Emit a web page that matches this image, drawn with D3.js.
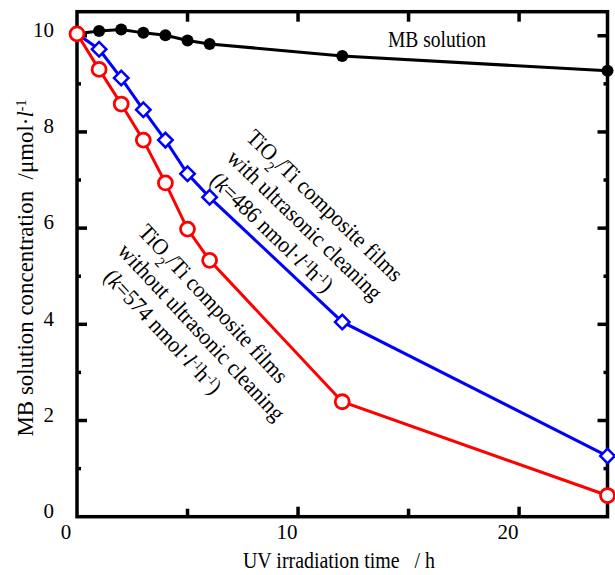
<!DOCTYPE html>
<html>
<head>
<meta charset="utf-8">
<script src="https://cdn.jsdelivr.net/npm/d3@7"></script>
<style>
  body { margin: 0; background: #fff; }
  text { font-family: "Liberation Serif", "Times New Roman", serif; fill: #000; }
</style>
</head>
<body>
<svg width="615" height="575"></svg>
<script>
// data
var times = [0, 1, 2, 3, 4, 5, 6, 12, 24];
var mbSolution = [10.04, 10.10, 10.13, 10.06, 10.01, 9.90, 9.83, 9.58, 9.27];
var withCleaning = [10.04, 9.72, 9.12, 8.46, 7.83, 7.13, 6.64, 4.05, 1.26];
var withoutCleaning = [10.04, 9.30, 8.58, 7.83, 6.94, 5.98, 5.33, 2.39, 0.44];

var xTicks = [0, 10, 20],
    xMinor = [5, 15],
    yTicks = [0, 2, 4, 6, 8, 10],
    yMinor = [1, 3, 5, 7, 9];

// plot box ("top" is a window global, so pl/pr/pt/pb)
var svg = d3.select("svg"),
    pl = 77, pr = 607.5, pt = 11.7, pb = 516.7;

var x = d3.scaleLinear().domain([0, 24]).range([pl, pr]),
    y = d3.scaleLinear().domain([0, 10.5]).range([pb, pt]);

svg.append("rect").attr("width", 615).attr("height", 575).attr("fill", "#fff");

// ticks, inward on all four sides
var ticks = svg.append("g").attr("stroke", "#000").attr("stroke-width", 3.5);
xTicks.concat(xMinor).forEach(function(t) {
  if (t === 0) return;
  var len = xMinor.indexOf(t) >= 0 ? 8 : 10;
  ticks.append("line").attr("x1", x(t)).attr("x2", x(t)).attr("y1", pb).attr("y2", pb - len);
  ticks.append("line").attr("x1", x(t)).attr("x2", x(t)).attr("y1", pt).attr("y2", pt + 10);
});
yTicks.concat(yMinor).forEach(function(t) {
  if (t === 0) return;
  var len = yMinor.indexOf(t) >= 0 ? 4 : 10;
  ticks.append("line").attr("x1", pl).attr("x2", pl + len).attr("y1", y(t)).attr("y2", y(t));
  ticks.append("line").attr("x1", pr).attr("x2", pr - len).attr("y1", y(t)).attr("y2", y(t));
});

// frame
svg.append("rect")
    .attr("x", pl).attr("y", pt)
    .attr("width", pr - pl).attr("height", pb - pt)
    .attr("fill", "none").attr("stroke", "#000").attr("stroke-width", 3.5);

// tick labels
svg.append("g").selectAll("text").data(yTicks).enter().append("text")
    .attr("x", 54).attr("y", function(d) { return y(d) - 6; })
    .attr("dy", "0.35em").attr("text-anchor", "end")
    .attr("font-size", 21)
    .text(function(d) { return d; });

svg.append("g").selectAll("text").data(xTicks).enter().append("text")
    .attr("x", function(d) { return x(d) - 11; }).attr("y", 539)
    .attr("text-anchor", "middle")
    .attr("font-size", 21)
    .text(function(d) { return d; });

// axis titles
svg.append("text")
    .attr("x", 339).attr("y", 568)
    .attr("text-anchor", "middle").attr("font-size", 23)
    .attr("textLength", 192).attr("lengthAdjust", "spacingAndGlyphs")
    .text("UV irradiation time \u00a0 / h");

var yl = svg.append("text")
    .attr("transform", "translate(33,268) rotate(-90)")
    .attr("text-anchor", "middle").attr("font-size", 23)
    .attr("textLength", 337).attr("lengthAdjust", "spacingAndGlyphs");
yl.append("tspan").text("MB solution concentration \u00a0/\u03bcmol\u00b7");
yl.append("tspan").attr("font-style", "italic").text("l");
yl.append("tspan").attr("baseline-shift", "super").attr("font-size", 14).text("-1");

// series
var line = d3.line()
    .x(function(d) { return x(d[0]); })
    .y(function(d) { return y(d[1]); });

function pairs(vals) { return times.map(function(t, i) { return [t, vals[i]]; }); }

var black = pairs(mbSolution), blue = pairs(withCleaning), red = pairs(withoutCleaning);

svg.append("path").datum(black).attr("d", line)
    .attr("fill", "none").attr("stroke", "#000").attr("stroke-width", 3);
svg.append("g").selectAll("circle").data(black.slice(1)).enter().append("circle")
    .attr("cx", function(d) { return x(d[0]); })
    .attr("cy", function(d) { return y(d[1]); })
    .attr("r", 6).attr("fill", "#000");

svg.append("path").datum(blue).attr("d", line)
    .attr("fill", "none").attr("stroke", "#0000ff").attr("stroke-width", 3);
svg.append("g").selectAll("path").data(blue.slice(1)).enter().append("path")
    .attr("d", d3.symbol().type(d3.symbolSquare).size(105))
    .attr("transform", function(d) { return "translate(" + x(d[0]) + "," + y(d[1]) + ") rotate(45)"; })
    .attr("fill", "#fff").attr("stroke", "#0000ff").attr("stroke-width", 2.5);

svg.append("path").datum(red).attr("d", line)
    .attr("fill", "none").attr("stroke", "#ff0000").attr("stroke-width", 3);
svg.append("g").selectAll("circle").data(red).enter().append("circle")
    .attr("cx", function(d) { return x(d[0]); })
    .attr("cy", function(d) { return y(d[1]); })
    .attr("r", 7).attr("fill", "#fff").attr("stroke", "#ff0000").attr("stroke-width", 2.8);

// annotations
svg.append("text")
    .attr("x", 388).attr("y", 47).attr("font-size", 23)
    .attr("textLength", 98).attr("lengthAdjust", "spacingAndGlyphs")
    .text("MB solution");

function note(x0, y0, angle, line2, kText, indent) {
  var g = svg.append("g")
      .attr("transform", "translate(" + x0 + "," + y0 + ") rotate(" + angle + ") scale(0.93,1)")
      .attr("font-size", 23);
  var t1 = g.append("text").attr("x", 0).attr("y", 0);
  t1.append("tspan").text("TiO");
  t1.append("tspan").attr("baseline-shift", "sub").attr("font-size", 15).text("2");
  t1.append("tspan").text("/Ti composite films");
  g.append("text").attr("x", 0).attr("y", 28).text(line2);
  var t3 = g.append("text").attr("x", indent).attr("y", 56);
  t3.append("tspan").text("(");
  t3.append("tspan").attr("font-style", "italic").text("k");
  t3.append("tspan").text("=" + kText + " nmol\u00b7");
  t3.append("tspan").attr("font-style", "italic").text("l");
  t3.append("tspan").attr("baseline-shift", "super").attr("font-size", 13).text("-1");
  t3.append("tspan").text("h");
  t3.append("tspan").attr("baseline-shift", "super").attr("font-size", 13).text("-1");
  t3.append("tspan").text(")");
}

note(245, 139, 44, "with ultrasonic cleaning", "486", 4);
note(137, 233, 47, "without ultrasonic cleaning", "574", 10);
</script>
</body>
</html>
